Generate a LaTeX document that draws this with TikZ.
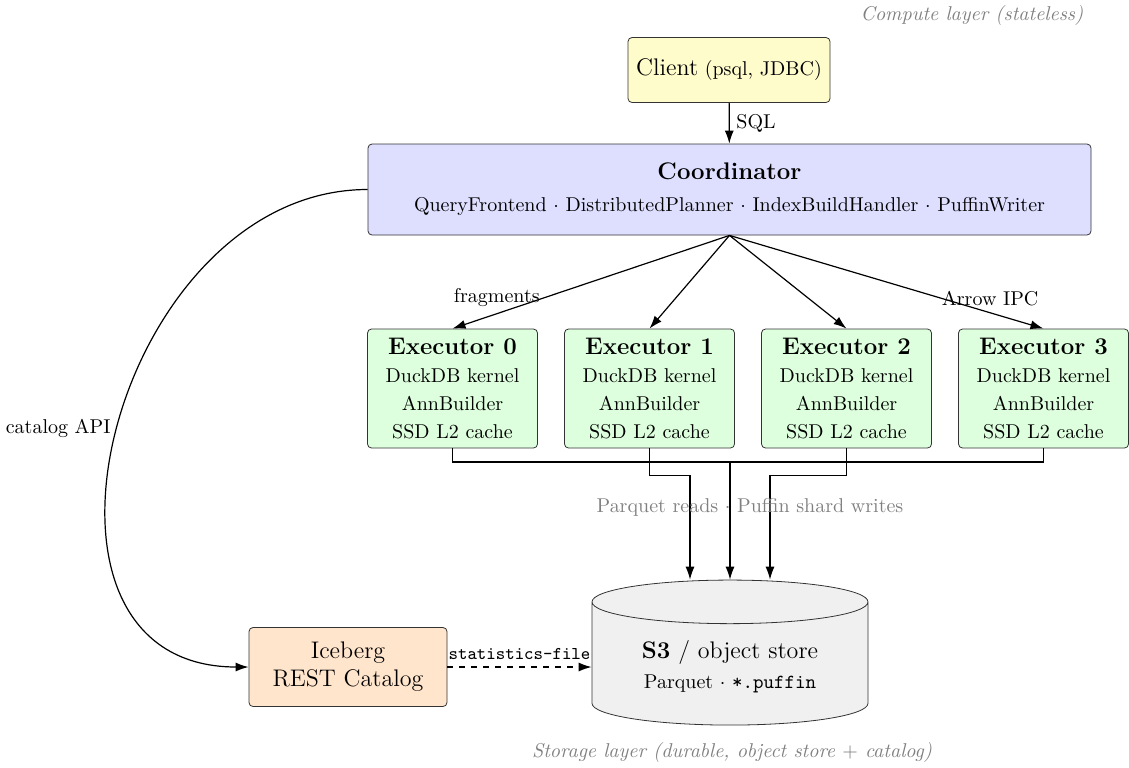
\documentclass[tikz,border=0pt]{standalone}
\usepackage{amsmath}
\usepackage{tikz}
\usetikzlibrary{shapes.geometric, arrows.meta}

\begin{document}
\begin{tikzpicture}[x=0.5pt, y=-0.5pt, node distance=98.5pt, >={Latex[length=6.5pt,width=4.5pt]},
  box/.style={draw=black!80, rounded corners=2pt, align=center},
  exec/.style={box, fill=green!13, minimum width=85pt, minimum height=59.5pt},
  note/.style={text=black!50, font=\itshape}]

\useasboundingbox (0,0) rectangle (1129,767);

\node (client) [box, fill=yellow!20, minimum width=101pt, minimum height=32.5pt] at (729,70) {{\large Client} (psql, JDBC)};
\node (coord) [box, fill=blue!13, minimum width=361.5pt, minimum height=45.5pt] at (729.5,189.5)
  {{\large\bfseries Coordinator}\\[4pt] QueryFrontend~$\cdot$~DistributedPlanner~$\cdot$~IndexBuildHandler~$\cdot$~PuffinWriter};

\node (ex0) [exec] at (452.5,388.5) {{\large\bfseries Executor 0}\\[2pt] DuckDB kernel\\[2pt] AnnBuilder\\[2pt] SSD L2 cache};
\node (ex1) [exec, right of=ex0] {{\large\bfseries Executor 1}\\[2pt] DuckDB kernel\\[2pt] AnnBuilder\\[2pt] SSD L2 cache};
\node (ex2) [exec, right of=ex1] {{\large\bfseries Executor 2}\\[2pt] DuckDB kernel\\[2pt] AnnBuilder\\[2pt] SSD L2 cache};
\node (ex3) [exec, right of=ex2] {{\large\bfseries Executor 3}\\[2pt] DuckDB kernel\\[2pt] AnnBuilder\\[2pt] SSD L2 cache};

\node (s3) [cylinder, shape border rotate=90, draw=black!80, fill=black!6, minimum width=138pt, minimum height=72.5pt, aspect=0.23, align=center] at (730,667)
  {{\large\textbf{S3} / object store}\\[3pt] Parquet~$\cdot$~\texttt{*.puffin}};
\node (ice) [box, fill=orange!20, font=\large, minimum width=99pt, minimum height=39.5pt] at (348,667) {Iceberg\\REST Catalog};

\draw [->, semithick] (client) -- node[right] {SQL} (coord);
\draw [->, semithick] (coord.south) -- node[pos=0.84, above] {fragments} (ex0.north);
\draw [->, semithick] (coord.south) -- (ex1.north);
\draw [->, semithick] (coord.south) -- (ex2.north);
\draw [->, semithick] (coord.south) -- node[pos=0.83, above] {Arrow IPC} (ex3.north);

\coordinate (bus) at (730,462);
\draw [semithick] (ex0.south) |- (bus) -| (ex3.south);
\draw [->, semithick] (bus) -- (s3.north);
\draw [->, semithick] (ex1.south) -- ++(0,27) -| ([xshift=-20pt]s3.north);
\draw [->, semithick] (ex2.south) -- ++(0,27) -| ([xshift=20pt]s3.north);
\node (io) [text=black!50] at (750,507) {Parquet reads~$\cdot$~Puffin shard writes};

\draw [->, semithick, dashed] (ice) -- node[above, font=\small\ttfamily] {statistics-file} (ice -| s3.west);
\draw [->, semithick] (coord.west) to[out=180, in=180, looseness=1.32] node[left] {catalog API} (ice.west);

\node (compute) [note] at (972,15) {Compute layer (stateless)};
\node (storage) [note] at (732,752) {Storage layer (durable, object store $+$ catalog)};

\end{tikzpicture}
\end{document}
